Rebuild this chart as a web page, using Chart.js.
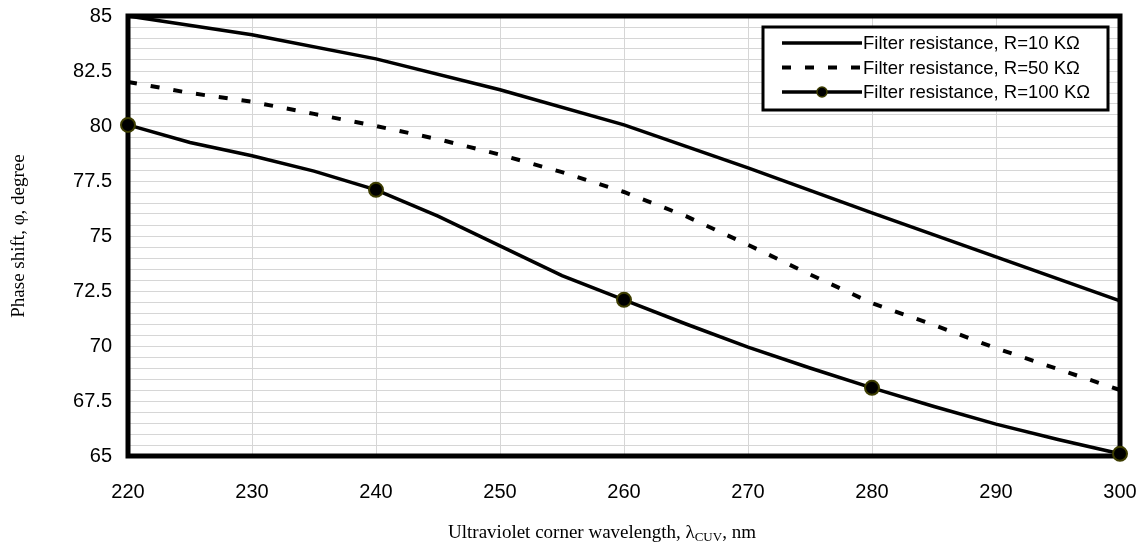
<!DOCTYPE html>
<html>
<head>
<meta charset="utf-8">
<script src="https://cdn.jsdelivr.net/npm/chart.js@4.4.1/dist/chart.umd.min.js"></script>
<style>
  body { margin: 0; background: #fff; }
  #wrap { width: 1143px; height: 551px; }
</style>
</head>
<body>
<div id="wrap"><canvas id="phaseChart"></canvas></div>
<script>
// wavelengths, nm
const wavelength10 = [220, 230, 240, 250, 260, 270, 280, 290, 300];
const wavelength5 = [220, 225, 230, 235, 240, 245, 250, 255, 260, 265, 270, 275, 280, 285, 290, 295, 300];

// phase shift, degree
const phaseR10 = [85.0, 84.15, 83.05, 81.65, 80.05, 78.1, 76.05, 74.05, 72.05];
const phaseR50 = [82.0, 81.5, 81.1, 80.55, 80.0, 79.4, 78.7, 77.9, 77.0, 75.9, 74.6, 73.25, 71.95, 70.95, 69.9, 68.95, 68.0];
const phaseR100 = [80.05, 79.25, 78.65, 77.95, 77.1, 75.9, 74.55, 73.2, 72.1, 71.0, 69.95, 69.0, 68.1, 67.25, 66.45, 65.75, 65.1];

const seriesLabels = [
    'Filter resistance, R=10 K\u03A9',
    'Filter resistance, R=50 K\u03A9',
    'Filter resistance, R=100 K\u03A9'
];

const toPoints = (xs, ys) => xs.map((x, i) => ({ x: x, y: ys[i] }));

// frame round the plot area, under the lines
const framePlugin = {
    id: 'frame',
    beforeDatasetsDraw(chart) {
        const a = chart.chartArea;
        const c = chart.ctx;
        c.save();
        c.strokeStyle = '#000';
        c.lineWidth = 5;
        c.strokeRect(a.left, a.top, a.right - a.left, a.bottom - a.top);
        c.restore();
    }
};

// legend box inside the plot and the axis titles
const textPlugin = {
    id: 'texts',
    afterDraw(chart) {
        const a = chart.chartArea;
        const c = chart.ctx;
        c.save();

        // legend
        const bx = a.right - 357, by = a.top + 11, bw = 345, bh = 83;
        c.fillStyle = '#fff';
        c.fillRect(bx, by, bw, bh);
        c.strokeStyle = '#000';
        c.lineWidth = 3;
        c.strokeRect(bx, by, bw, bh);
        c.font = '18.5px "Liberation Sans", Arial, sans-serif';
        c.textBaseline = 'middle';
        chart.data.datasets.forEach((ds, i) => {
            const ly = by + 16 + i * 24.5;
            const x0 = bx + 19, x1 = bx + 99;
            c.beginPath();
            c.setLineDash(ds.borderDash || []);
            c.lineWidth = ds.borderWidth;
            c.strokeStyle = ds.borderColor;
            c.moveTo(x0, ly);
            c.lineTo(x1, ly);
            c.stroke();
            c.setLineDash([]);
            if (ds.legendMarker) {
                c.beginPath();
                c.arc((x0 + x1) / 2, ly, 5, 0, Math.PI * 2);
                c.fillStyle = '#000';
                c.fill();
                c.lineWidth = 1.5;
                c.strokeStyle = '#3d3d00';
                c.stroke();
            }
            c.fillStyle = '#000';
            c.textAlign = 'left';
            c.fillText(ds.label, x1 + 1, ly + 1);
        });

        // y title
        c.font = '19px "Liberation Serif", "Times New Roman", serif';
        c.fillStyle = '#000';
        c.save();
        c.translate(19, (a.top + a.bottom) / 2);
        c.rotate(-Math.PI / 2);
        c.textAlign = 'center';
        c.fillText('Phase shift, \u03C6, degree', 0, 0);
        c.restore();

        // x title with subscript
        const part1 = 'Ultraviolet corner wavelength, \u03BB';
        const sub = 'CUV';
        const part2 = ', nm';
        const big = '19px "Liberation Serif", "Times New Roman", serif';
        const small = '13px "Liberation Serif", "Times New Roman", serif';
        c.font = big;
        const w1 = c.measureText(part1).width;
        const w3 = c.measureText(part2).width;
        c.font = small;
        const w2 = c.measureText(sub).width;
        const total = w1 + w2 + w3;
        let tx = (a.left + a.right) / 2 - 22 - total / 2;
        const ty = a.bottom + 77;
        c.textAlign = 'left';
        c.font = big;
        c.fillText(part1, tx, ty);
        tx += w1;
        c.font = small;
        c.fillText(sub, tx, ty + 5);
        tx += w2;
        c.font = big;
        c.fillText(part2, tx, ty);

        c.restore();
    }
};

const ctx = document.getElementById('phaseChart').getContext('2d');
const phaseChart = new Chart(ctx, {
    type: 'line',
    data: {
        datasets: [
            {
                label: seriesLabels[0],
                data: toPoints(wavelength10, phaseR10),
                borderColor: '#000',
                borderWidth: 3.5,
                pointRadius: 0,
                tension: 0,
                clip: false
            },
            {
                label: seriesLabels[1],
                data: toPoints(wavelength5, phaseR50),
                borderColor: '#000',
                borderWidth: 4,
                borderDash: [9, 14],
                borderCapStyle: 'butt',
                pointRadius: 0,
                tension: 0,
                clip: false
            },
            {
                label: seriesLabels[2],
                data: toPoints(wavelength5, phaseR100),
                borderColor: '#000',
                borderWidth: 3.5,
                pointRadius: c => ((c.raw && (c.raw.x - 220) % 20 === 0) ? 7 : 0),
                pointBackgroundColor: '#000',
                pointBorderColor: '#3d3d00',
                pointBorderWidth: 2,
                pointHoverRadius: 0,
                tension: 0,
                clip: false,
                legendMarker: true
            }
        ]
    },
    options: {
        responsive: true,
        maintainAspectRatio: false,
        animation: false,
        layout: { padding: { top: 16, right: 23, left: 0, bottom: 0 } },
        plugins: {
            legend: { display: false },
            tooltip: { enabled: false }
        },
        scales: {
            x: {
                type: 'linear',
                min: 220,
                max: 300,
                afterFit: s => { s.height = 95; s.paddingLeft = 0; s.paddingRight = 0; },
                border: { display: false },
                grid: { color: '#d6d6d6', borderDash: [3, 2], drawTicks: false },
                ticks: {
                    stepSize: 10,
                    padding: 24,
                    color: '#000',
                    font: { family: '"Liberation Sans", Arial, sans-serif', size: 20 }
                }
            },
            y: {
                min: 65,
                max: 85,
                afterFit: s => { s.width = 128; s.paddingTop = 0; s.paddingBottom = 0; },
                border: { display: false },
                grid: { color: '#d6d6d6', borderDash: [3, 2], drawTicks: false },
                ticks: {
                    stepSize: 0.5,
                    autoSkip: false,
                    padding: 16,
                    color: '#000',
                    font: { family: '"Liberation Sans", Arial, sans-serif', size: 20 },
                    callback: v => {
                        const k = v / 2.5;
                        return Math.abs(k - Math.round(k)) < 1e-6 ? String(Math.round(v * 10) / 10) : '';
                    }
                }
            }
        }
    },
    plugins: [framePlugin, textPlugin]
});
</script>
</body>
</html>
